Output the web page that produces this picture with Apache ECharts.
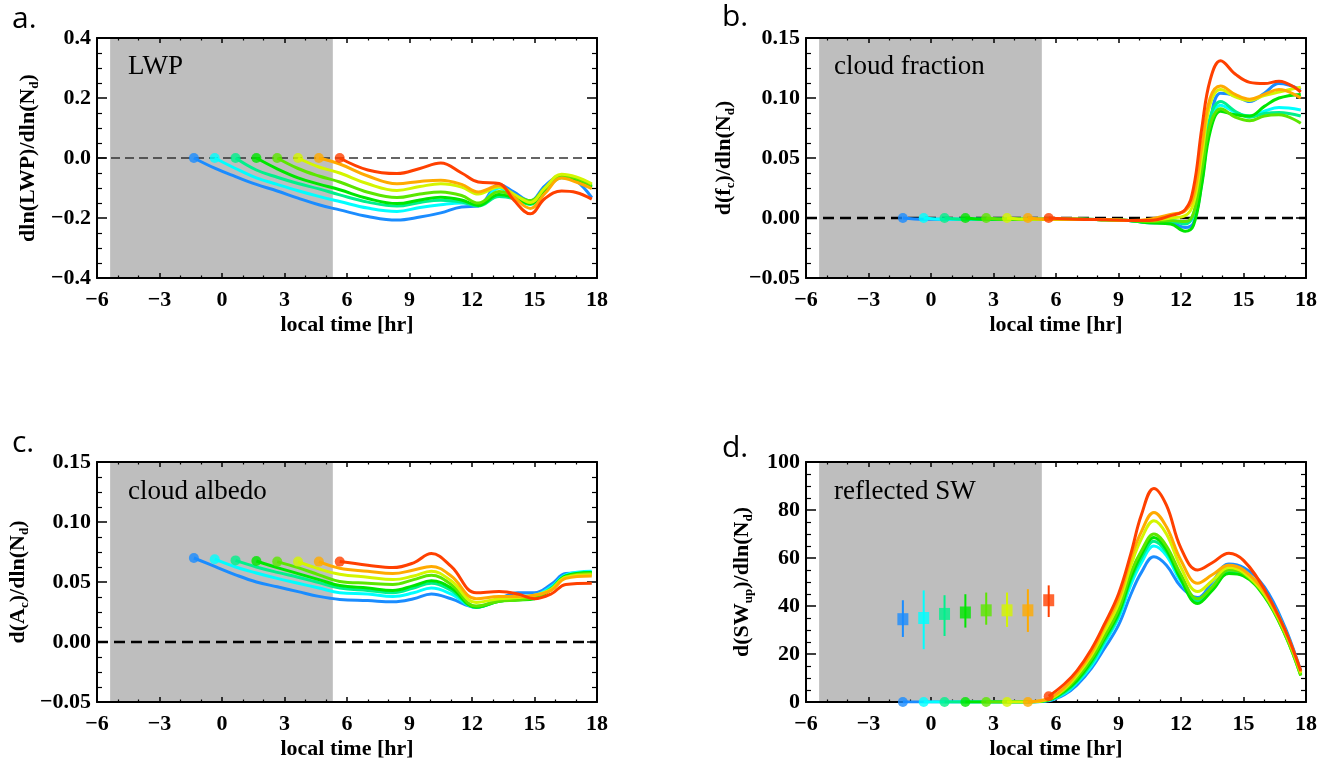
<!DOCTYPE html>
<html><head><meta charset="utf-8">
<script src="https://cdn.jsdelivr.net/npm/echarts@6/dist/echarts.min.js"></script>
<style>html,body{margin:0;padding:0;background:#fff}#c{width:1328px;height:763px}</style>
</head><body><div id="c"></div><script>
// ---------------- data ----------------
const seriesColors = ['#1a8cff','#00ffff','#00f08c','#00e600','#5ce600','#d4f500','#ffaa00','#ff4000'];
const nightStart = -5.37, nightEnd = 5.32;
const xTicksMin = -6, xTicksMax = 18, xTickStep = 3;

// panel a: dln(LWP)/dln(Nd)
const hoursA = [-1.35,-0.35,0.65,1.65,2.65,3.65,4.65,5.65,7,8.4,9.5,10.5,11.5,12.3,13.3,14,14.8,15.5,16.3,17,17.75];
const lwpBlue   = [0,-0.034,-0.062,-0.088,-0.110,-0.134,-0.156,-0.173,-0.195,-0.207,-0.197,-0.183,-0.163,-0.160,-0.088,-0.113,-0.143,-0.093,-0.058,-0.076,-0.132];
const lwpCyan   = [null,0,-0.035,-0.066,-0.088,-0.109,-0.128,-0.145,-0.167,-0.178,-0.165,-0.156,-0.150,-0.157,-0.100,-0.125,-0.148,-0.100,-0.061,-0.072,-0.097];
const lwpSpring = [null,null,0,-0.040,-0.064,-0.085,-0.103,-0.123,-0.147,-0.160,-0.148,-0.141,-0.147,-0.160,-0.128,-0.135,-0.155,-0.110,-0.066,-0.075,-0.094];
const lwpGreen  = [null,null,null,0,-0.036,-0.066,-0.087,-0.106,-0.135,-0.152,-0.140,-0.131,-0.140,-0.158,-0.122,-0.132,-0.152,-0.105,-0.063,-0.072,-0.097];
const lwpLime   = [null,null,null,null,0,-0.035,-0.060,-0.080,-0.114,-0.132,-0.120,-0.113,-0.125,-0.150,-0.112,-0.125,-0.142,-0.100,-0.058,-0.068,-0.090];
const lwpYellow = [null,null,null,null,null,0,-0.030,-0.050,-0.086,-0.108,-0.095,-0.086,-0.097,-0.120,-0.097,-0.120,-0.148,-0.100,-0.054,-0.063,-0.086];
const lwpOrange = [null,null,null,null,null,null,0,-0.020,-0.060,-0.086,-0.078,-0.074,-0.088,-0.113,-0.092,-0.130,-0.168,-0.118,-0.067,-0.080,-0.102];
const lwpRed    = [null,null,null,null,null,null,null,0,-0.040,-0.052,-0.035,-0.017,-0.050,-0.080,-0.085,-0.140,-0.186,-0.135,-0.110,-0.115,-0.137];

// panel b: d(fc)/dln(Nd)
const hoursB = [-1.35,-0.35,0.65,1.65,2.65,3.65,4.65,5.65,7,8.4,9.5,10.5,11.5,12.2,12.6,13.0,13.4,13.9,14.6,15.3,16.0,16.7,17.75];
const cfBlue   = [0,-0.001,-0.001,-0.001,-0.001,-0.001,-0.001,-0.001,-0.001,-0.0015,-0.002,-0.004,-0.004,-0.008,-0.004,0.030,0.080,0.104,0.102,0.097,0.104,0.112,0.107];
const cfCyan   = [null,0,-0.001,-0.001,-0.001,-0.001,-0.001,-0.001,-0.001,-0.0015,-0.002,-0.003,-0.002,-0.004,0.002,0.040,0.080,0.094,0.088,0.085,0.089,0.092,0.090];
const cfSpring = [null,null,0,-0.001,-0.001,-0.001,-0.001,-0.001,-0.001,-0.0015,-0.002,-0.004,-0.003,-0.005,0.003,0.042,0.084,0.097,0.089,0.084,0.087,0.088,0.085];
const cfGreen  = [null,null,null,0,-0.001,-0.001,-0.001,-0.001,-0.001,-0.0015,-0.002,-0.004,-0.005,-0.011,-0.006,0.028,0.072,0.089,0.086,0.085,0.093,0.100,0.103];
const cfLime   = [null,null,null,null,0,-0.001,-0.001,-0.001,-0.001,-0.0015,-0.002,-0.003,-0.002,-0.003,0.004,0.040,0.078,0.091,0.084,0.081,0.085,0.086,0.079];
const cfYellow = [null,null,null,null,null,0,-0.001,-0.001,-0.001,-0.0015,-0.002,-0.002,0.000,0.002,0.012,0.052,0.095,0.107,0.101,0.098,0.102,0.105,0.109];
const cfOrange = [null,null,null,null,null,null,0,-0.001,-0.001,-0.0015,-0.002,-0.001,0.003,0.006,0.018,0.060,0.100,0.110,0.103,0.099,0.103,0.107,0.100];
const cfRed    = [null,null,null,null,null,null,null,0,-0.001,-0.0015,-0.002,-0.002,0.002,0.007,0.025,0.075,0.115,0.131,0.120,0.113,0.112,0.114,0.105];

// panel c: d(Ac)/dln(Nd)
const hoursC = [-1.35,-0.35,0.65,1.65,2.65,3.65,4.65,5.65,7,8.2,9.2,10.05,11,12.2,13.3,14.2,15,15.8,16.5,17.75];
const caBlue   = [0.070,0.063,0.056,0.050,0.046,0.042,0.038,0.0355,0.0345,0.0335,0.036,0.040,0.036,0.029,0.036,0.041,0.041,0.048,0.057,0.058];
const caCyan   = [null,0.069,0.0625,0.0575,0.053,0.049,0.045,0.041,0.040,0.038,0.041,0.045,0.040,0.029,0.035,0.038,0.039,0.046,0.056,0.059];
const caSpring = [null,null,0.068,0.0625,0.058,0.054,0.0495,0.045,0.043,0.041,0.045,0.049,0.043,0.029,0.034,0.036,0.037,0.045,0.055,0.058];
const caGreen  = [null,null,null,0.0675,0.062,0.057,0.052,0.047,0.045,0.043,0.047,0.051,0.045,0.029,0.034,0.035,0.036,0.044,0.055,0.058];
const caLime   = [null,null,null,null,0.067,0.062,0.056,0.0505,0.049,0.048,0.052,0.0556,0.048,0.030,0.034,0.035,0.037,0.044,0.054,0.057];
const caYellow = [null,null,null,null,null,0.067,0.061,0.0565,0.054,0.052,0.055,0.059,0.051,0.033,0.036,0.037,0.039,0.044,0.054,0.056];
const caOrange = [null,null,null,null,null,null,0.067,0.0615,0.059,0.057,0.060,0.063,0.055,0.036,0.038,0.038,0.039,0.043,0.053,0.055];
const caRed    = [null,null,null,null,null,null,null,0.067,0.064,0.062,0.066,0.0737,0.063,0.041,0.042,0.040,0.036,0.040,0.048,0.049];

// panel d: d(SWup)/dln(Nd)
const hoursD = [-1.35,-0.35,0.65,1.65,2.65,3.65,4.65,5.65,6.4,7,7.7,8.3,9,9.6,10.1,10.7,11.3,12,12.8,13.5,14.3,15,16,17,17.75];
const swBlue   = [0,0,0,0,0,0,0,0.5,3,7,14,22,32,45,54,60.5,57,48,43.5,50,57.5,56,48,31,13];
const swCyan   = [null,0,0,0,0,0,0,0.7,3.5,8,15,24,35,49,58,65,61,50,42.5,48,55,54,46,30,12];
const swSpring = [null,null,0,0,0,0,0,0.8,4,8.5,16,25,36,51,60,67,62.5,51,42,47,54,53,45,29,11.5];
const swGreen  = [null,null,null,0,0,0,0,0.9,4.5,9,17,26,37,52,61.5,68.5,63.5,51,41,46.5,53.5,52.5,44,28,11];
const swLime   = [null,null,null,null,0,0,0,1,5,10,18,27,38.5,54,63,70,65,53,43,48,55,53.5,44.5,28,11];
const swYellow = [null,null,null,null,null,0,0,1.2,5.5,11,19.5,29,41,57,68,75.5,70,56,46,50.5,56,54,45,29,12];
const swOrange = [null,null,null,null,null,null,0,1.5,6,12,20.5,31,43,60,71,79,73,59,49.5,53,57,55,46,29.5,12.5];
const swRed    = [null,null,null,null,null,null,null,2.4,7.5,13,22,32,45,62,78,89,82,64,55,58,62,59,47,30,13];

// panel d: mean with error bars
const swBarHours = [-1.35,-0.35,0.65,1.65,2.65,3.65,4.65,5.65];
const swBarMean  = [34.5,35.0,36.7,37.3,38.2,38.2,38.2,42.4];
const swBarLow   = [27.1,22.0,27.5,31.0,32.2,31.3,29.2,35.4];
const swBarHigh  = [42.4,46.5,44.5,44.9,45.6,45.6,47.0,48.6];

const zeroLine = [[-6,0],[18,0]];

// ---------------- chart ----------------
const SERIF = 'Liberation Serif';
function fmtNum(v, dec){ if (Math.abs(v) < 1e-9) v = 0; return (v < 0 ? '\u2212' : '') + Math.abs(v).toFixed(dec); }
function lineData(hours, vals){ const out = []; hours.forEach((h,k)=>{ if (vals[k] != null) out.push([h, vals[k]]); }); return out; }

const panels = [
  {left:97, top:38, hours:hoursA, vals:[lwpBlue,lwpCyan,lwpSpring,lwpGreen,lwpLime,lwpYellow,lwpOrange,lwpRed],
   ymin:-0.4, ymax:0.4, yint:0.2, ydec:1, yname:'dln(LWP)/dln(N{s|d})', ygap:56, zero:{w:1.6,c:'#333',d:[9,5]}},
  {left:806, top:38, hours:hoursB, vals:[cfBlue,cfCyan,cfSpring,cfGreen,cfLime,cfYellow,cfOrange,cfRed],
   ymin:-0.05, ymax:0.15, yint:0.05, ydec:2, yname:'d(f{s|c})/dln(N{s|d})', ygap:69, zero:{w:2.6,c:'#000',d:[11,6]}},
  {left:97, top:462, hours:hoursC, vals:[caBlue,caCyan,caSpring,caGreen,caLime,caYellow,caOrange,caRed],
   ymin:-0.05, ymax:0.15, yint:0.05, ydec:2, yname:'d(A{s|c})/dln(N{s|d})', ygap:66, zero:{w:2.6,c:'#000',d:[11,6]}},
  {left:806, top:462, hours:hoursD, vals:[swBlue,swCyan,swSpring,swGreen,swLime,swYellow,swOrange,swRed],
   ymin:0, ymax:100, yint:20, ydec:0, yname:'d(SW{s|up})/dln(N{s|d})', ygap:51, zero:null}
];

const grids = [], xAxes = [], yAxes = [], series = [];
const labelStyle = {color:'#000', fontFamily:SERIF, fontWeight:'bold', fontSize:22};
const nameStyle = {color:'#000', fontFamily:SERIF, fontWeight:'bold', fontSize:22, lineHeight:26,
  rich:{s:{color:'#000', fontFamily:SERIF, fontWeight:'bold', fontSize:13, lineHeight:12, verticalAlign:'bottom'}}};

panels.forEach((p, gi) => {
  grids.push({left:p.left, top:p.top, width:500, height:240, containLabel:false, outerBoundsMode:'none'});
  const common = {gridIndex:gi, type:'value', z:3,
    axisLine:{show:true, onZero:false, lineStyle:{color:'#000', width:2}},
    splitLine:{show:false}, minorSplitLine:{show:false}};
  ['bottom','top'].forEach((pos, k) => {
    xAxes.push(Object.assign({}, common, {position:pos, min:xTicksMin, max:xTicksMax, interval:xTickStep,
      axisTick:{show:true, inside:true, length:5, lineStyle:{color:'#000', width:1.5}},
      minorTick:{show:true, splitNumber:3, length:2.5, lineStyle:{color:'#000', width:1.2}},
      axisLabel:Object.assign({show:k===0, margin:11, showMinLabel:true, showMaxLabel:true, formatter:v=>fmtNum(v,0)}, labelStyle),
      name: k===0 ? 'local time [hr]' : '', nameLocation:'middle', nameGap:36,
      nameTextStyle:{color:'#000', fontFamily:SERIF, fontWeight:'bold', fontSize:22}}));
  });
  ['left','right'].forEach((pos, k) => {
    yAxes.push(Object.assign({}, common, {position:pos, min:p.ymin, max:p.ymax, interval:p.yint,
      axisTick:{show:true, inside:true, length:10, lineStyle:{color:'#000', width:1.5}},
      minorTick:{show:true, splitNumber:4, length:5, lineStyle:{color:'#000', width:1.2}},
      axisLabel:Object.assign({show:k===0, margin:6, showMinLabel:true, showMaxLabel:true, formatter:v=>fmtNum(v,p.ydec)}, labelStyle),
      name: k===0 ? p.yname : '', nameLocation:'middle', nameRotate:90, nameGap:p.ygap, nameTextStyle:nameStyle}));
  });
  const xi = gi*2, yi = gi*2;
  // night shading
  series.push({type:'custom', xAxisIndex:xi, yAxisIndex:yi, z:1, silent:true, animation:false,
    data:[[nightStart, nightEnd]], encode:{x:[0,1]},
    renderItem:(params, api) => {
      const a = api.coord([api.value(0), p.ymax]);
      const b = api.coord([api.value(1), p.ymin]);
      return {type:'rect', shape:{x:a[0], y:a[1], width:b[0]-a[0], height:b[1]-a[1]}, style:{fill:'#bebebe'}};
    }});
  if (p.zero) {
    series.push({type:'line', xAxisIndex:xi, yAxisIndex:yi, z:2, data:zeroLine, symbol:'none', silent:true,
      lineStyle:{color:p.zero.c, width:p.zero.w, type:p.zero.d}});
  }
  const starts = [];
  p.vals.forEach((vals, si) => {
    const d = lineData(p.hours, vals);
    starts.push({value:d[0], itemStyle:{color:seriesColors[si]}});
    series.push({type:'line', xAxisIndex:xi, yAxisIndex:yi, z:4, data:d, showSymbol:false, symbol:'none',
      smooth:0.4, lineStyle:{color:seriesColors[si], width:3}, silent:true});
  });
  series.push({type:'scatter', xAxisIndex:xi, yAxisIndex:yi, z:5, data:starts, symbol:'circle', symbolSize:10, silent:true});
  if (gi === 3) {
    const bars = swBarHours.map((h,k)=>[h, swBarLow[k], swBarHigh[k]]);
    series.push({type:'custom', xAxisIndex:xi, yAxisIndex:yi, z:5, silent:true, data:bars, encode:{x:0, y:[1,2]},
      renderItem:(params, api) => {
        const x = api.value(0);
        const a = api.coord([x, api.value(1)]);
        const b = api.coord([x, api.value(2)]);
        return {type:'line', shape:{x1:a[0], y1:a[1], x2:b[0], y2:b[1]}, style:{stroke:seriesColors[params.dataIndex], lineWidth:2}};
      }});
    series.push({type:'scatter', xAxisIndex:xi, yAxisIndex:yi, z:6, silent:true, symbol:'rect', symbolSize:[11,12],
      data: swBarHours.map((h,k)=>({value:[h, swBarMean[k]], itemStyle:{color:seriesColors[k]}}))});
  }
});

const letterFont = 'Open Sans';
function txt(x, y, s, size, family){
  return {type:'text', x:x, y:y, z:10, style:{text:s, fontSize:size, fontFamily:family, fill:'#000',
    align:'left', verticalAlign:'middle', textAlign:'left', textVerticalAlign:'middle'}};
}
const graphics = [
  txt(12, 19, 'a.', 30, letterFont), txt(722, 17, 'b.', 30, letterFont),
  txt(12, 443, 'c.', 30, letterFont), txt(722, 448, 'd.', 30, letterFont),
  txt(128, 67, 'LWP', 27, SERIF), txt(834, 67, 'cloud fraction', 27, SERIF),
  txt(128, 492, 'cloud albedo', 27, SERIF), txt(834, 492, 'reflected SW', 27, SERIF)
];

const chart = echarts.init(document.getElementById('c'), null, {renderer:'canvas'});
chart.setOption({animation:false, backgroundColor:'#fff', grid:grids, xAxis:xAxes, yAxis:yAxes, series:series, graphic:graphics});
</script></body></html>
